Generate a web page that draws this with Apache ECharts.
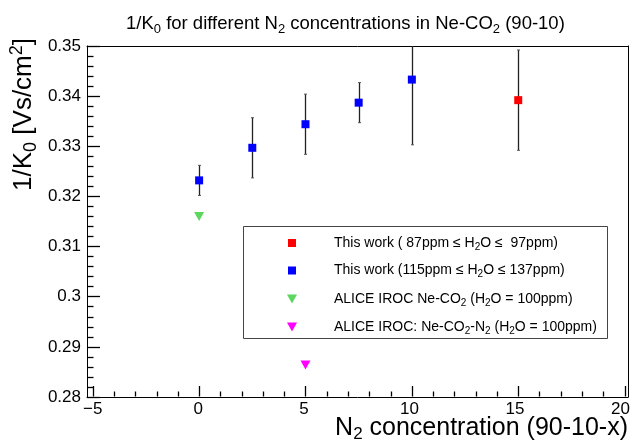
<!DOCTYPE html>
<html><head><meta charset="utf-8">
<script src="https://cdn.jsdelivr.net/npm/echarts@6/dist/echarts.min.js"></script>
<style>html,body{margin:0;padding:0;background:#fff}#c{width:633px;height:447px}</style>
</head><body><div id="c"></div>
<script>
// ---- data ----
const blueX = [0, 2.5, 5, 7.5, 10];
const blueY = [0.3232, 0.3297, 0.3344, 0.3387, 0.3433];
const blueErr = [0.0030, 0.0060, 0.0060, 0.0040, 0.0130];
const redX = [15];
const redY = [0.3392];
const redErr = [0.0100];
const aliceNeCO2X = [0];
const aliceNeCO2Y = [0.3160];
const aliceN2X = [5];
const aliceN2Y = [0.2864];
const seriesNames = [
  'This work ( 87ppm \u2264 H2O \u2264  97ppm)',
  'This work (115ppm \u2264 H2O \u2264 137ppm)',
  'ALICE IROC Ne-CO2 (H2O = 100ppm)',
  'ALICE IROC: Ne-CO2-N2 (H2O = 100ppm)'
];
// axis ranges / ticks
const xFrame = [-5.27, 20.16];
const xTickRange = [-5, 20];
const xTickStep = 5;
const yRange = [0.28, 0.35];
const yTickStep = 0.01;
const xMajorTicks = [-5, 0, 5, 10, 15, 20];
const xMinorTicks = [-4, -3, -2, -1, 1, 2, 3, 4, 6, 7, 8, 9, 11, 12, 13, 14, 16, 17, 18, 19];

const FONT = 'Liberation Sans, Arial, Helvetica, sans-serif';
const TRI = 'path://M0,0L10,0L5,9Z';

function zip3(xs, ys, es) { return xs.map((x, i) => es ? [x, ys[i], es[i]] : [x, ys[i]]); }
function richName(s) { return s.replace(/(H|CO|N)2/g, '$1{s|2}'); }

function errRender(params, api) {
  const x = api.value(0), y = api.value(1), e = api.value(2);
  const top = api.coord([x, y + e]);
  const bot = api.coord([x, y - e]);
  const cs = params.coordSys;
  const px = Math.round(top[0]) + 0.5;
  const yTop = Math.max(top[1], cs.y);
  const yBot = Math.min(bot[1], cs.y + cs.height);
  const st = { stroke: '#222', lineWidth: 1.3 };
  const ch = [{ type: 'line', shape: { x1: px, y1: yTop, x2: px, y2: yBot }, style: st }];
  if (top[1] >= cs.y) ch.push({ type: 'line', shape: { x1: px - 1.5, y1: yTop, x2: px + 1.5, y2: yTop }, style: { stroke: '#555', lineWidth: 1 } });
  ch.push({ type: 'line', shape: { x1: px - 1.5, y1: yBot, x2: px + 1.5, y2: yBot }, style: { stroke: '#555', lineWidth: 1 } });
  return { type: 'group', children: ch };
}

// inward x tick marks, positioned through the x scale
function xTickRender(len) {
  return function (params, api) {
    const cs = params.coordSys;
    const p = api.coord([api.value(0), yRange[0]]);
    const x = Math.round(p[0]) + 0.5, y0 = cs.y + cs.height;
    return { type: 'line', shape: { x1: x, y1: y0 - 0.5, x2: x, y2: y0 - len }, style: { stroke: '#000', lineWidth: 1.3 } };
  };
}
function tickSeries(name, data, render) {
  return { name, type: 'custom', renderItem: render, data, encode: { x: 0, y: 1 }, silent: true, clip: false, z: 5 };
}

const legendRows = [
  { name: seriesNames[0], center: 243, w: 8, h: 8 },
  { name: seriesNames[1], center: 270.5, w: 8, h: 8 },
  { name: seriesNames[2], center: 299, w: 10, h: 9 },
  { name: seriesNames[3], center: 327, w: 10, h: 9 }
];
const legends = legendRows.map(r => ({
  data: [r.name], orient: 'vertical', padding: 0, selectedMode: false,
  left: 292 - r.w / 2, top: r.center - 9,
  itemWidth: r.w, itemHeight: r.h,
  formatter: n => '{g| }' + richName(n),
  textStyle: {
    fontFamily: FONT, fontSize: 14, lineHeight: 18, color: '#000',
    rich: {
      g: { width: 334 - (292 - r.w / 2) - r.w - 5, fontSize: 14, lineHeight: 18 },
      s: { fontFamily: FONT, fontSize: 10, lineHeight: 10, verticalAlign: 'bottom', color: '#000' }
    }
  }
}));

const G = { left: 87, right: 628, top: 46, bottom: 397 };
const pxPerUnit = (G.right - G.left) / (xFrame[1] - xFrame[0]);
const tickLeft = G.left + (xTickRange[0] - xFrame[0]) * pxPerUnit;
const tickRight = G.left + (xTickRange[1] - xFrame[0]) * pxPerUnit;

const lineOnly = { show: true, onZero: false, lineStyle: { color: '#000', width: 1 } };

const chart = echarts.init(document.getElementById('c'));
chart.setOption({
  animation: false,
  title: {
    text: '1/K{s|0} for different N{s|2} concentrations in Ne-CO{s|2} (90-10)',
    left: 126, top: 12, padding: 0,
    textStyle: {
      fontFamily: FONT, fontSize: 18.5, fontWeight: 'normal', color: '#000', lineHeight: 24,
      rich: { s: { fontFamily: FONT, fontSize: 13, lineHeight: 13, verticalAlign: 'bottom', color: '#000' } }
    }
  },
  grid: [
    { left: G.left, right: 633 - G.right, top: G.top, bottom: 447 - G.bottom, show: false },
    { left: tickLeft, right: 633 - tickRight, top: G.top, bottom: 447 - G.bottom, show: false }
  ],
  xAxis: [{
    gridIndex: 0, type: 'value', min: xFrame[0], max: xFrame[1], position: 'bottom',
    axisLine: lineOnly, axisTick: { show: false }, axisLabel: { show: false }, splitLine: { show: false }
  }, {
    gridIndex: 0, type: 'value', min: xFrame[0], max: xFrame[1], position: 'top',
    axisLine: lineOnly, axisTick: { show: false }, axisLabel: { show: false }, splitLine: { show: false }
  }, {
    gridIndex: 1, type: 'value', min: xTickRange[0], max: xTickRange[1], interval: xTickStep, position: 'bottom',
    axisLine: { show: false, onZero: false }, axisTick: { show: false },
    axisLabel: { show: true, margin: 4, fontFamily: FONT, fontSize: 17, color: '#000', formatter: v => (v < 0 ? '\u2212' + (-v) : '' + v) },
    splitLine: { show: false }
  }],
  yAxis: [{
    gridIndex: 0, type: 'value', min: yRange[0], max: yRange[1], interval: yTickStep, position: 'left',
    axisLine: lineOnly,
    axisTick: { show: true, inside: true, length: 13, lineStyle: { color: '#000', width: 1.3 } },
    minorTick: { show: true, splitNumber: 5, length: 6.5, lineStyle: { color: '#000', width: 1.3 } },
    axisLabel: { show: true, margin: 6, fontFamily: FONT, fontSize: 17, color: '#000', formatter: v => '' + (+v.toFixed(2)) },
    splitLine: { show: false }, minorSplitLine: { show: false }
  }, {
    gridIndex: 0, type: 'value', min: yRange[0], max: yRange[1], position: 'right',
    axisLine: lineOnly, axisTick: { show: false }, axisLabel: { show: false }, splitLine: { show: false }
  }, {
    gridIndex: 1, type: 'value', min: 0, max: 1, show: false
  }],
  legend: legends,
  graphic: [
    { type: 'rect', shape: { x: 243.5, y: 226.5, width: 364, height: 112 }, style: { fill: '#fff', stroke: '#444', lineWidth: 1 }, z: 0, silent: true },
    { type: 'text', x: 24, y: 38, rotation: Math.PI / 2, silent: true,
      style: { text: '1/K{s|0} [Vs/cm{p|2}]', align: 'right', verticalAlign: 'middle', fontFamily: FONT, fontSize: 26, lineHeight: 32, fill: '#000',
        rich: { s: { fontFamily: FONT, fontSize: 18, lineHeight: 18, verticalAlign: 'bottom', fill: '#000' },
                p: { fontFamily: FONT, fontSize: 18, lineHeight: 18, verticalAlign: 'top', fill: '#000' } } } },
    { type: 'text', x: 628, y: 428, silent: true,
      style: { text: 'N{s|2} concentration (90-10-x)', align: 'right', verticalAlign: 'middle', fontFamily: FONT, fontSize: 25, lineHeight: 30, fill: '#000',
        rich: { s: { fontFamily: FONT, fontSize: 17, lineHeight: 17, verticalAlign: 'bottom', fill: '#000' } } } }
  ],
  series: [
    tickSeries('x major ticks', xMajorTicks.map(v => [v, 0.3]), xTickRender(11)),
    tickSeries('x minor ticks', xMinorTicks.map(v => [v, 0.3]), xTickRender(5.5)),
    { name: seriesNames[0] + ' err', type: 'custom', renderItem: errRender, data: zip3(redX, redY, redErr), encode: { x: 0, y: 1 }, silent: true, z: 2 },
    { name: seriesNames[1] + ' err', type: 'custom', renderItem: errRender, data: zip3(blueX, blueY, blueErr), encode: { x: 0, y: 1 }, silent: true, z: 2 },
    { name: seriesNames[0], type: 'scatter', symbol: 'rect', symbolSize: 8, itemStyle: { color: '#ff0000', opacity: 1 }, data: zip3(redX, redY), z: 3 },
    { name: seriesNames[1], type: 'scatter', symbol: 'rect', symbolSize: 8, itemStyle: { color: '#0000ff', opacity: 1 }, data: zip3(blueX, blueY), z: 3 },
    { name: seriesNames[2], type: 'scatter', symbol: TRI, symbolSize: [10, 9], itemStyle: { color: '#5cd65c', opacity: 1 }, data: zip3(aliceNeCO2X, aliceNeCO2Y), z: 3 },
    { name: seriesNames[3], type: 'scatter', symbol: TRI, symbolSize: [10, 9], itemStyle: { color: '#ff00ff', opacity: 1 }, data: zip3(aliceN2X, aliceN2Y), z: 3 }
  ]
});
</script></body></html>
